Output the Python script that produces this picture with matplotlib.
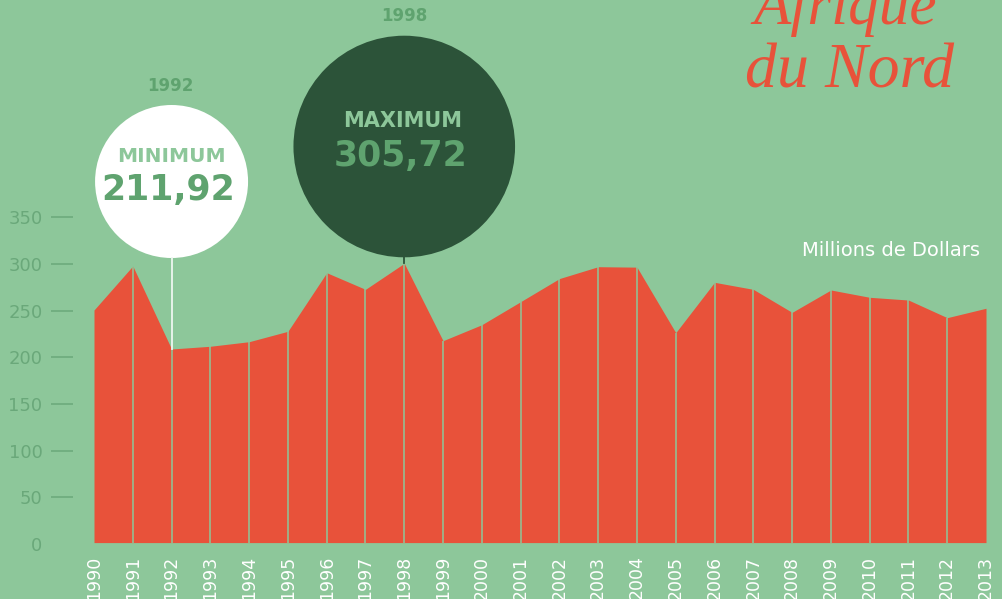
import matplotlib
matplotlib.use("Agg")
import matplotlib.pyplot as plt
from matplotlib.patches import Circle

# ---------------- data ----------------
years = list(range(1990, 2014))
values = [254.6, 302.8, 211.92, 214.9, 219.9, 231.3, 295.4, 277.2, 305.72, 221.0,
          238.5, 263.7, 289.0, 302.0, 301.5, 229.8, 284.9, 277.2, 252.0, 276.5,
          268.5, 265.5, 246.2, 256.5]
tick_values = [0, 50, 100, 150, 200, 250, 300, 350]
title_lines = ["Afrique", "du Nord"]
unit_label = "Millions de Dollars"
min_label, max_label = "MINIMUM", "MAXIMUM"

# ---------------- style ----------------
BG = "#8dc79a"
RED = "#e8523a"
DARK = "#2c5339"
MID = "#5fa36f"
TICK = "#6aa87a"
W, H = 1003, 599

fig = plt.figure(figsize=(W / 100, H / 100), dpi=100, facecolor=BG)

left_px, right_px = 94, 986
zero_px = 542.6
px_per_unit = 0.9136

# main data axes
ax = fig.add_axes([left_px / W, (H - zero_px) / H, (right_px - left_px) / W, zero_px / H])
ax.set_xlim(years[0], years[-1])
ax.set_ylim(0, zero_px / px_per_unit)
ax.axis("off")
ax.fill_between(years, 0, values, color=RED, lw=0, zorder=1)
ax.vlines(years[1:-1], 0, values[1:-1], color=BG, lw=1.1, zorder=2)

# tick axes (reference tick scale)
t0, t350 = 544.0, 217.3
axt = fig.add_axes([left_px / W, (H - t0) / H, (right_px - left_px) / W, (t0 - t350) / H])
axt.set_facecolor("none")
axt.set_ylim(0, 350)
axt.set_xlim(0, 1)
axt.set_xticks([])
axt.set_yticks(tick_values)
axt.set_yticklabels([str(v) for v in tick_values])
for s in axt.spines.values():
    s.set_visible(False)
axt.spines["left"].set_position(("outward", 15))
axt.tick_params(axis="y", colors=TICK, length=16, width=1.1, pad=6, labelsize=13)
tk0 = axt.yaxis.get_major_ticks()[0]
tk0.tick1line.set_visible(False)
for lab in axt.get_yticklabels():
    lab.set_color(TICK)
axt.get_yticklabels()[0].set_y(0)

# year labels
for y in years:
    ax.annotate(str(y), xy=(y, 0), xycoords="data", xytext=(0, -13),
                textcoords="offset pixels", rotation=90, ha="center", va="top",
                color="white", fontsize=12.5, annotation_clip=False)

# overlay in pixel coords
ov = fig.add_axes([0, 0, 1, 1])
ov.set_xlim(0, W)
ov.set_ylim(0, H)
ov.axis("off")
ov.set_zorder(5)

i_min = values.index(min(values))
i_max = values.index(max(values))
xmin_px, ymin_disp = ax.transData.transform((years[i_min], values[i_min]))
xmax_px, ymax_disp = ax.transData.transform((years[i_max], values[i_max]))

# min bubble
c1y, r1 = H - 181.5, 76.5
ov.plot([xmin_px, xmin_px], [c1y - r1, ymin_disp], color="#eef6f0", lw=1.3)
ov.add_patch(Circle((xmin_px, c1y), r1, color="white", lw=0))
ov.text(xmin_px - 1, H - 86, str(years[i_min]), ha="center", va="center",
        color=MID, fontsize=12, fontweight="bold")
ov.text(xmin_px, H - 157, min_label, ha="center", va="center",
        color=BG, fontsize=14.5, fontweight="bold")
ov.text(xmin_px - 3, H - 190, f"{values[i_min]:.2f}".replace(".", ","),
        ha="center", va="center", color=MID, fontsize=25, fontweight="bold")

# max bubble
c2y, r2 = H - 146.5, 110.8
ov.plot([xmax_px, xmax_px], [c2y - r2, ymax_disp], color=DARK, lw=1.3)
ov.add_patch(Circle((xmax_px, c2y), r2, color=DARK, lw=0))
ov.text(xmax_px, H - 16, str(years[i_max]), ha="center", va="center",
        color=MID, fontsize=12, fontweight="bold")
ov.text(xmax_px - 2, H - 121, max_label, ha="center", va="center",
        color=BG, fontsize=15, fontweight="bold")
ov.text(xmax_px - 4, H - 156, f"{values[i_max]:.2f}".replace(".", ","),
        ha="center", va="center", color=MID, fontsize=25, fontweight="bold")

# unit label
ov.text(980, H - 250, unit_label, ha="right", va="center", color="white", fontsize=14)

# title
ov.text(845, H - 24, title_lines[0], ha="center", va="baseline", color=RED,
        fontsize=44, family="Liberation Serif", style="italic")
ov.text(850, H - 88, title_lines[1], ha="center", va="baseline", color=RED,
        fontsize=46, family="Liberation Serif", style="italic")

fig.savefig("out.png", dpi=100, facecolor=BG)
